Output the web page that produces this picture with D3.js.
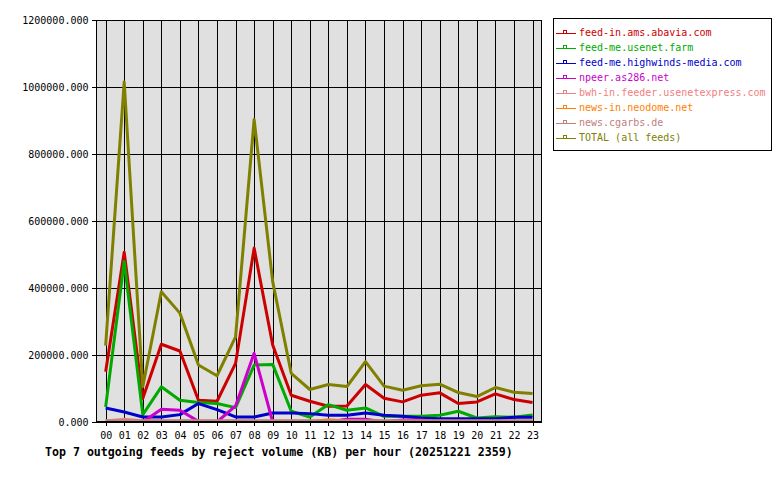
<!DOCTYPE html>
<html>
<head>
<meta charset="utf-8">
<script src="https://cdn.jsdelivr.net/npm/d3@7/dist/d3.min.js"></script>
<style>
  html, body { margin: 0; padding: 0; background: #ffffff; }
  svg { display: block; }
  text { font-family: "DejaVu Sans Mono", "Liberation Mono", monospace; }
</style>
</head>
<body>
<svg id="chart" width="780" height="480"></svg>
<script>
// ---- data ----
const hours = ["00","01","02","03","04","05","06","07","08","09","10","11","12","13","14","15","16","17","18","19","20","21","22","23"];
const yTicks = [0, 200000, 400000, 600000, 800000, 1000000, 1200000];

const seriesNames = [
  "feed-in.ams.abavia.com",
  "feed-me.usenet.farm",
  "feed-me.highwinds-media.com",
  "npeer.as286.net",
  "bwh-in.feeder.usenetexpress.com",
  "news-in.neodome.net",
  "news.cgarbs.de",
  "TOTAL (all feeds)"
];
const seriesColors = ["#cc0000", "#00aa00", "#0000cc", "#cc00cc", "#f08080", "#ff8000", "#c08080", "#808000"];

const abavia    = [150000, 507000, 70000, 232000, 212000, 65000, 62000, 175000, 519000, 230000, 80000, 62000, 47000, 48000, 112000, 71000, 60000, 80000, 87000, 55000, 60000, 84000, 67000, 58000];
const usenetFarm = [45000, 479000, 22000, 105000, 65000, 58000, 55000, 43000, 170000, 172000, 32000, 15000, 52000, 35000, 42000, 17000, 17000, 17000, 20000, 32000, 12000, 16000, 14000, 21000];
const highwinds = [42000, 30000, 15000, 15000, 22000, 55000, 37000, 15000, 15000, 27000, 27000, 25000, 20000, 20000, 27000, 20000, 17000, 12000, 10000, 10000, 10000, 10000, 14000, 14000];
const npeer     = [0, 0, 0, 38000, 35000, 2000, 0, 48000, 205000, 0, 0, 0, 0, 8000, 8000, 0, 6000, 6000, 0, 0, 0, 0, 0, 0];
const bwh       = [3000, 8000, 4000, 2000, 2000, 2000, 2000, 2000, 2000, 2000, 2000, 2000, 2000, 2000, 2000, 2000, 2000, 2000, 2000, 2000, 2000, 2000, 2000, 2000];
const neodome   = [0, 0, 0, 0, 0, 0, 0, 0, 0, 0, 0, 0, 7000, 3000, 0, 0, 0, 0, 0, 0, 0, 0, 0, 0];
const cgarbs    = [4000, 4000, 4000, 4000, 4000, 4000, 4000, 4000, 4000, 4000, 4000, 4000, 4000, 4000, 4000, 4000, 4000, 4000, 4000, 4000, 4000, 4000, 4000, 4000];
const total     = [228000, 1015000, 105000, 389000, 325000, 170000, 138000, 254000, 903000, 419000, 145000, 97000, 112000, 106000, 180000, 107000, 95000, 108000, 113000, 88000, 76000, 103000, 89000, 85000];

const seriesValues = [abavia, usenetFarm, highwinds, npeer, bwh, neodome, cgarbs, total];
const titleText = "Top 7 outgoing feeds by reject volume (KB) per hour (20251221 2359)";

// ---- layout ----
const plot = { left: 96, right: 542, top: 20, bottom: 422 };
const svg = d3.select("#chart");

const x = d3.scaleLinear().domain([-0.52, 23.51]).range([plot.left, plot.right]);
const y = d3.scaleLinear().domain([0, 1200000]).range([plot.bottom, plot.top]);

// plot background
svg.append("rect")
  .attr("x", plot.left).attr("y", plot.top)
  .attr("width", plot.right - plot.left).attr("height", plot.bottom - plot.top)
  .attr("fill", "#e0e0e0");

// grid
const grid = svg.append("g").attr("shape-rendering", "crispEdges").attr("stroke", "#000").attr("stroke-width", 1);
grid.selectAll("line.v").data(hours.map((h, i) => i)).join("line")
  .attr("class", "v")
  .attr("x1", d => Math.round(x(d)) + 0.5).attr("x2", d => Math.round(x(d)) + 0.5)
  .attr("y1", plot.top).attr("y2", plot.bottom);
grid.selectAll("line.h").data(yTicks).join("line")
  .attr("class", "h")
  .attr("x1", plot.left).attr("x2", plot.right)
  .attr("y1", d => Math.round(y(d)) + 0.5).attr("y2", d => Math.round(y(d)) + 0.5);

// axes
const yAxis = d3.axisLeft(y).tickValues(yTicks).tickFormat(d => d.toFixed(3)).tickSize(5).tickPadding(3);
const gy = svg.append("g").attr("transform", `translate(${plot.left + 0.5},0)`).call(yAxis);
gy.select(".domain").remove();
gy.selectAll("line").attr("stroke", "#000").attr("shape-rendering", "crispEdges");
gy.selectAll("text").attr("font-size", 10).attr("fill", "#000")
  .attr("font-family", "DejaVu Sans Mono, monospace");

const xAxis = d3.axisBottom(x).tickValues(d3.range(hours.length)).tickFormat(i => hours[i]).tickSize(4).tickPadding(5.5);
const gx = svg.append("g").attr("transform", `translate(0,${plot.bottom})`).call(xAxis);
gx.select(".domain").remove();
gx.selectAll("line").attr("stroke", "#000").attr("shape-rendering", "crispEdges");
gx.selectAll("text").attr("font-size", 10).attr("fill", "#000")
  .attr("font-family", "DejaVu Sans Mono, monospace");

// series lines
const clip = svg.append("clipPath").attr("id", "plotclip").append("rect")
  .attr("x", plot.left).attr("y", plot.top)
  .attr("width", plot.right - plot.left).attr("height", plot.bottom - plot.top);

const line = d3.line().x((d, i) => x(i)).y(d => y(d));
const lines = svg.append("g").attr("clip-path", "url(#plotclip)");
seriesValues.forEach((vals, k) => {
  lines.append("path")
    .attr("d", line(vals))
    .attr("fill", "none")
    .attr("stroke", seriesColors[k])
    .attr("stroke-width", 3)
    .attr("stroke-linejoin", "round");
});

// plot border
svg.append("rect")
  .attr("x", plot.left + 0.5).attr("y", plot.top + 0.5)
  .attr("width", plot.right - plot.left - 1).attr("height", plot.bottom - plot.top - 1)
  .attr("fill", "none").attr("stroke", "#000").attr("stroke-width", 1)
  .attr("shape-rendering", "crispEdges");

// legend
const legend = svg.append("g");
legend.append("rect")
  .attr("x", 553.5).attr("y", 18.5).attr("width", 218).attr("height", 132)
  .attr("fill", "#fff").attr("stroke", "#000").attr("shape-rendering", "crispEdges");
const items = legend.selectAll("g.item").data(seriesNames).join("g")
  .attr("class", "item")
  .attr("transform", (d, i) => `translate(0,${33 + i * 15})`);
items.append("line")
  .attr("x1", 556).attr("x2", 576).attr("y1", 0.5).attr("y2", 0.5)
  .attr("stroke", (d, i) => seriesColors[i]).attr("stroke-width", 1)
  .attr("shape-rendering", "crispEdges");
items.append("rect")
  .attr("x", 563.5).attr("y", -2.5).attr("width", 3).attr("height", 3)
  .attr("fill", "none").attr("stroke", (d, i) => seriesColors[i])
  .attr("shape-rendering", "crispEdges");
items.append("text")
  .attr("x", 579).attr("y", 0).attr("dy", "0.32em")
  .attr("font-size", 10)
  .attr("fill", (d, i) => seriesColors[i])
  .text(d => d);

// title
svg.append("text")
  .attr("x", 45).attr("y", 452).attr("dy", "0.35em")
  .attr("font-size", 11.6).attr("font-weight", "bold").attr("fill", "#000")
  .text(titleText);
</script>
</body>
</html>
